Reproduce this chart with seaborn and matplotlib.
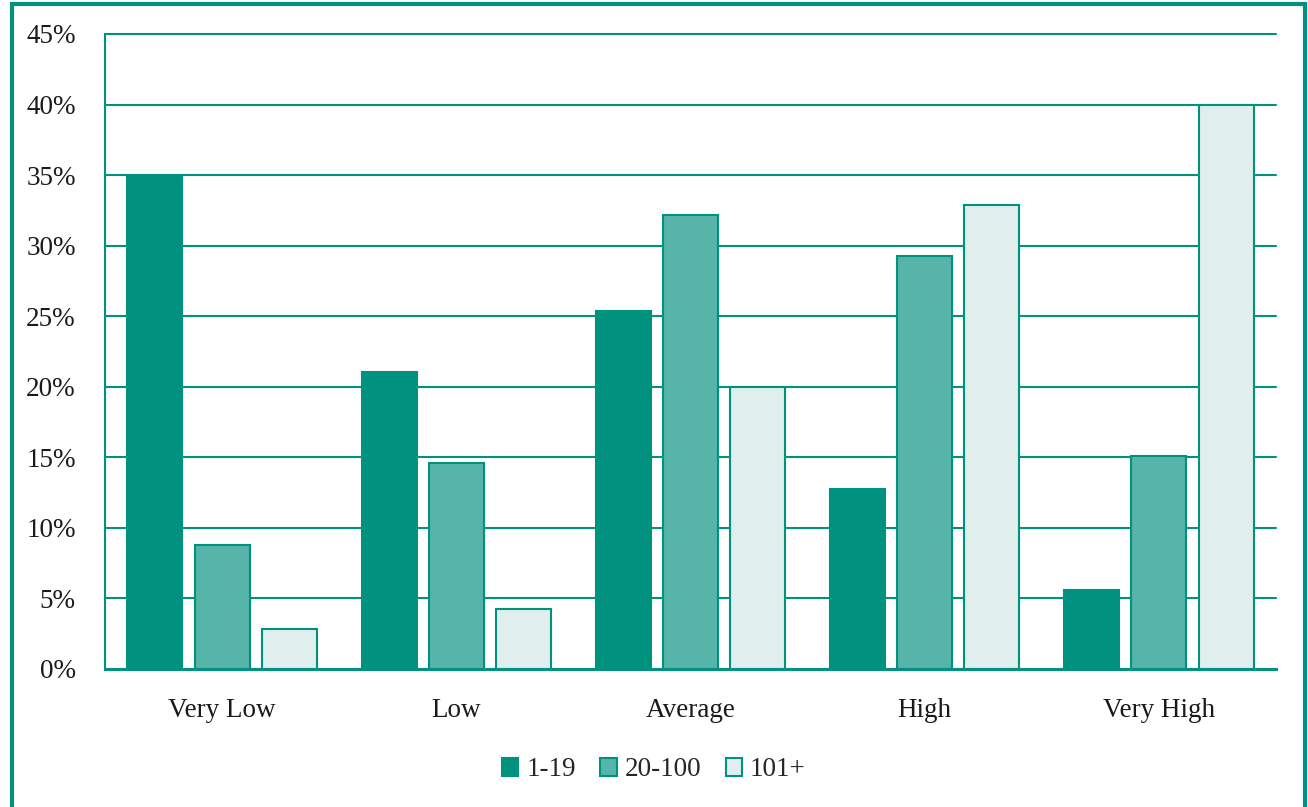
import matplotlib
matplotlib.use("Agg")
import matplotlib.pyplot as plt
import seaborn as sns
import pandas as pd
from matplotlib.patches import Rectangle
from matplotlib.ticker import FuncFormatter

categories = ["Very Low", "Low", "Average", "High", "Very High"]
series_names = ["1-19", "20-100", "101+"]
vals_1_19 = [34.9, 21.05, 25.4, 12.75, 5.6]
vals_20_100 = [8.8, 14.6, 32.2, 29.3, 15.1]
vals_101 = [2.8, 4.25, 20.0, 32.9, 40.0]

rows = []
for name, vals in zip(series_names, [vals_1_19, vals_20_100, vals_101]):
    for c, v in zip(categories, vals):
        rows.append({"category": c, "size": name, "value": v})
df = pd.DataFrame(rows)

teal = "#00927E"
colors = ["#00927E", "#56B4A8", "#E0EEED"]

sns.set_style("white")
plt.rcParams["font.family"] = ["Liberation Serif", "DejaVu Serif"]

fig = plt.figure(figsize=(13.08, 8.07), dpi=100)
ax = fig.add_axes([105/1308, 1-669/807, (1276-105)/1308, (669-34)/807])

sns.barplot(data=df, x="category", y="value", hue="size", order=categories,
            hue_order=series_names, palette=colors, saturation=1, width=0.86, gap=0.18,
            edgecolor=teal, linewidth=1.5, ax=ax, zorder=3)

ax.set_ylim(0, 45)
ax.set_xlim(-0.5, 4.5)
ax.set_yticks(range(0, 46, 5))
ax.yaxis.set_major_formatter(FuncFormatter(lambda v, p: f"{int(v)}%"))
ax.grid(axis="y", color=teal, linewidth=1.5, zorder=0)
ax.set_axisbelow(True)
for gl in ax.get_ygridlines():
    gl.set_clip_on(False)
ax.set_xlabel("")
ax.set_ylabel("")
for s in ["top", "right"]:
    ax.spines[s].set_visible(False)
ax.spines["left"].set_color(teal)
ax.spines["left"].set_linewidth(1.5)
ax.spines["bottom"].set_color(teal)
ax.spines["bottom"].set_linewidth(2.2)
ax.tick_params(axis="both", length=0, labelsize=19.5, colors="#1a1a1a")
ax.tick_params(axis="y", pad=21)
ax.tick_params(axis="x", pad=21)

handles, labels = ax.get_legend_handles_labels()
ax.legend_.remove()
leg = fig.legend(handles, labels, loc="center", bbox_to_anchor=(0.5, 1-770/807),
                 ncol=3, frameon=False, fontsize=19.5, handlelength=0.6,
                 handleheight=0.6, handletextpad=0.3, columnspacing=0.9)

fig.patches.append(Rectangle((12/1308, -0.02), (1305-12)/1308, (1.02-4/807),
                             transform=fig.transFigure, fill=False,
                             edgecolor=teal, linewidth=3, zorder=10))

fig.savefig("out.png", dpi=100)
